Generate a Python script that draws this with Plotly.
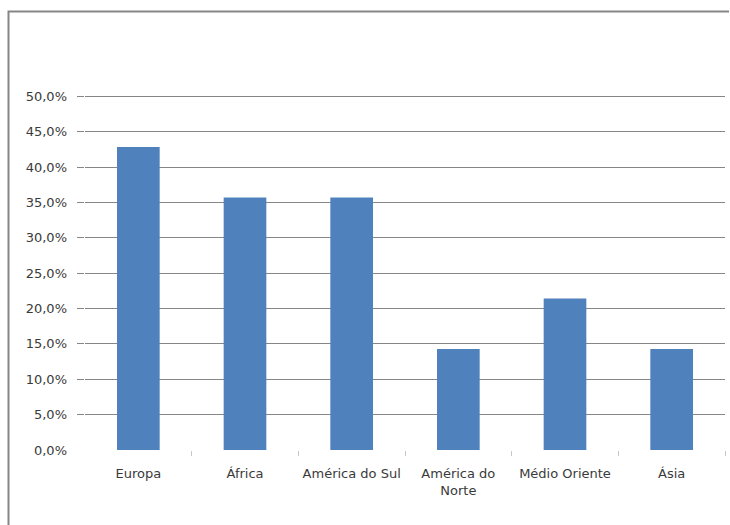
import plotly.graph_objects as go

# Share of cases by region
regions = ["Europa", "África", "América do Sul", "América do<br>Norte", "Médio Oriente", "Ásia"]
shares = [6 / 14, 5 / 14, 5 / 14, 2 / 14, 3 / 14, 2 / 14]

label_vals = [0.0, 0.05, 0.10, 0.15, 0.20, 0.25, 0.30, 0.35, 0.40, 0.45, 0.50]
grid_vals = label_vals[1:]
boundary_vals = [0.5, 1.5, 2.5, 3.5, 4.5, 5.5]

GRID = "#868686"
TEXT = "#3A3A3A"
FONT = "DejaVu Sans"

W, H = 730, 525
# plot area in pixels (left, right, top, bottom)
PL, PR, PT, PB = 85, 725, 95, 450
YMAX = 0.502

x_dom = [PL / W, PR / W]
y_dom = [1 - PB / H, 1 - PT / H]

fig = go.Figure()
fig.add_trace(go.Bar(
    x=regions, y=shares,
    marker=dict(color="#4F81BD", line=dict(width=0)),
    hoverinfo="skip",
))
# invisible companion trace so the secondary axes (grid + tick stubs) are drawn
fig.add_trace(go.Scatter(x=[0], y=[0], xaxis="x2", yaxis="y2",
                         mode="markers", marker=dict(opacity=0),
                         hoverinfo="skip", showlegend=False))
# chart frame (top and left edges) on a full-page pixel subplot
fig.add_trace(go.Scatter(x=[W - 1, 8.5, 8.5], y=[11.5, 11.5, H + 20],
                         xaxis="x3", yaxis="y3", mode="lines",
                         line=dict(color=GRID, width=2),
                         hoverinfo="skip", showlegend=False))

fig.update_layout(
    width=W, height=H,
    margin=dict(l=0, r=0, t=0, b=0),
    paper_bgcolor="white", plot_bgcolor="rgba(0,0,0,0)",
    separators=",.",
    showlegend=False,
    bargap=0.6,
    font=dict(family=FONT, size=13, color=TEXT),
    xaxis=dict(
        domain=x_dom, anchor="y",
        type="category",
        ticks="", ticklabelstandoff=14,
        showline=False, showgrid=False, zeroline=False,
        automargin=False,
        tickfont=dict(family=FONT, size=13, color=TEXT),
    ),
    xaxis2=dict(
        overlaying="x", anchor="y", range=[-0.5, 5.5],
        tickvals=boundary_vals, showticklabels=False,
        ticks="outside", ticklen=5, tickcolor="#C8C8C8", tickwidth=1,
        showgrid=False, zeroline=False, showline=False,
        side="bottom", automargin=False,
    ),
    yaxis=dict(
        domain=y_dom, anchor="x",
        range=[0, YMAX],
        tickvals=label_vals,
        tickformat=".1%",
        ticks="", showline=False,
        showgrid=False,
        zeroline=False,
        ticklabelstandoff=17,
        automargin=False,
        tickfont=dict(family=FONT, size=13, color=TEXT),
    ),
    yaxis2=dict(
        overlaying="y", side="left", range=[0, YMAX],
        tickvals=grid_vals, showticklabels=False,
        ticks="outside", ticklen=7, tickcolor=GRID, tickwidth=1,
        showgrid=True, gridcolor=GRID, gridwidth=1,
        zeroline=False, showline=False, automargin=False,
        layer="below traces",
    ),
    xaxis3=dict(domain=[0, 1], anchor="y3", range=[0, W], visible=False,
                fixedrange=True),
    yaxis3=dict(domain=[0, 1], anchor="x3", range=[H, 0], visible=False,
                fixedrange=True),
)

fig.write_html("out.html", config={"displayModeBar": False})
